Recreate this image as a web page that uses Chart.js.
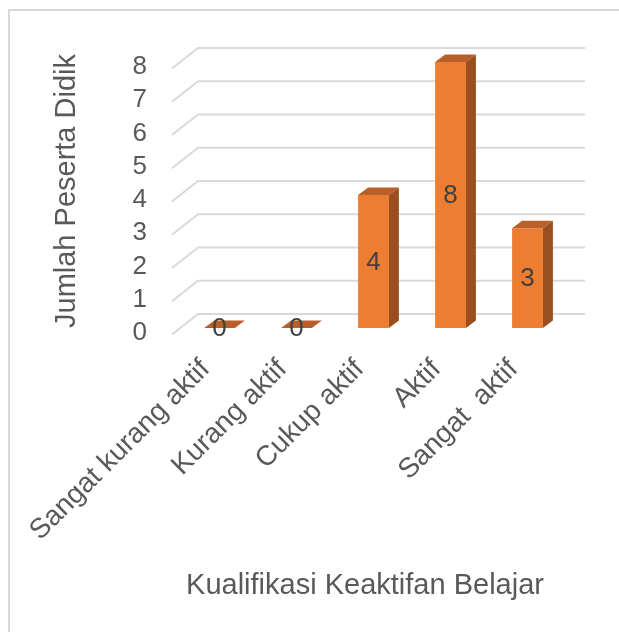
<!DOCTYPE html>
<html>
<head>
<meta charset="utf-8">
<script src="https://cdn.jsdelivr.net/npm/chart.js@4/dist/chart.umd.min.js"></script>
<style>
  html, body { margin: 0; padding: 0; background: #fff; }
  #wrap { width: 619px; height: 632px; position: relative; }
</style>
</head>
<body>
<div id="wrap"><canvas id="chart" width="619" height="632"></canvas></div>
<script>
// data
const categories = ['Sangat kurang aktif', 'Kurang aktif', 'Cukup aktif', 'Aktif', 'Sangat  aktif'];
const jumlah = [0, 0, 4, 8, 3];
const yTicks = [0, 1, 2, 3, 4, 5, 6, 7, 8];
const yTitle = 'Jumlah Peserta Didik';
const xTitle = 'Kualifikasi Keaktifan Belajar';

const FONT = '"Liberation Sans", Arial, sans-serif';
const TEXT = '#595959';
const GRID = '#d9d9d9';
// kedalaman efek 3D
const DX = 10, DY = -7.5;

const threeD = {
    id: 'threeD',
    beforeDraw(chart) {
        const { ctx } = chart;
        ctx.save();
        ctx.strokeStyle = GRID;
        ctx.lineWidth = 2;
        ctx.beginPath();
        ctx.moveTo(9, 700);
        ctx.lineTo(9, 10);
        ctx.lineTo(700, 10);
        ctx.stroke();
        ctx.restore();
    },
    beforeDatasetsDraw(chart) {
        // garis grid dengan dinding belakang miring
        const { ctx, chartArea: a, scales: { y } } = chart;
        ctx.save();
        ctx.strokeStyle = GRID;
        ctx.lineWidth = 2;
        yTicks.forEach(v => {
            const py = y.getPixelForValue(v);
            ctx.beginPath();
            ctx.moveTo(a.left - 9, py + 6.5);
            ctx.lineTo(a.left + 17, py - 14);
            ctx.lineTo(a.right + 19, py - 14);
            ctx.stroke();
        });
        ctx.restore();
    },
    afterDatasetsDraw(chart) {
        const { ctx } = chart;
        const meta = chart.getDatasetMeta(0);
        ctx.save();
        meta.data.forEach((bar, i) => {
            const { x, y, base, width } = bar.getProps(['x', 'y', 'base', 'width'], true);
            const l = x - width / 2, r = x + width / 2;
            // sisi atas
            ctx.fillStyle = '#b9602a';
            ctx.beginPath();
            ctx.moveTo(l, y);
            ctx.lineTo(r, y);
            ctx.lineTo(r + DX, y + DY);
            ctx.lineTo(l + DX, y + DY);
            ctx.closePath();
            ctx.fill();
            // sisi kanan
            if (base - y > 0.5) {
                ctx.fillStyle = '#9c4f1e';
                ctx.beginPath();
                ctx.moveTo(r, y);
                ctx.lineTo(r + DX, y + DY);
                ctx.lineTo(r + DX, base + DY);
                ctx.lineTo(r, base);
                ctx.closePath();
                ctx.fill();
            }
            // label data
            ctx.fillStyle = '#404040';
            ctx.font = '26px ' + FONT;
            ctx.textAlign = 'center';
            ctx.textBaseline = 'middle';
            ctx.fillText(String(jumlah[i]), x, (y + base) / 2 + 1);
        });
        ctx.restore();
    },
    afterDraw(chart) {
        const { ctx } = chart;
        ctx.save();
        ctx.fillStyle = TEXT;
        ctx.font = '29px ' + FONT;
        ctx.textAlign = 'center';
        ctx.textBaseline = 'middle';
        ctx.fillText(xTitle, 365, 586);
        ctx.translate(67, 191);
        ctx.rotate(-Math.PI / 2);
        ctx.fillText(yTitle, 0, 0);
        ctx.restore();
    }
};

new Chart(document.getElementById('chart'), {
    type: 'bar',
    data: {
        labels: categories,
        datasets: [{
            label: yTitle,
            data: jumlah,
            backgroundColor: '#ed7d31',
            borderWidth: 0,
            barPercentage: 0.4,
            categoryPercentage: 1
        }]
    },
    options: {
        responsive: false,
        animation: false,
        events: [],
        layout: { padding: { top: 62, right: 53, bottom: 0, left: 0 } },
        plugins: {
            legend: { display: false },
            tooltip: { enabled: false }
        },
        scales: {
            x: {
                grid: { display: false, drawTicks: false },
                border: { display: false },
                afterFit: s => { s.height = 304; },
                ticks: {
                    autoSkip: false,
                    maxRotation: 45,
                    minRotation: 45,
                    padding: 25,
                    labelOffset: -14,
                    color: TEXT,
                    font: { family: FONT, size: 28 }
                }
            },
            y: {
                min: 0,
                max: 8,
                grid: { display: false, drawTicks: false },
                border: { display: false },
                afterFit: s => { s.width = 181; },
                ticks: {
                    stepSize: 1,
                    autoSkip: false,
                    padding: 34,
                    labelOffset: 5,
                    color: TEXT,
                    font: { family: FONT, size: 26 }
                }
            }
        }
    },
    plugins: [threeD]
});
</script>
</body>
</html>
